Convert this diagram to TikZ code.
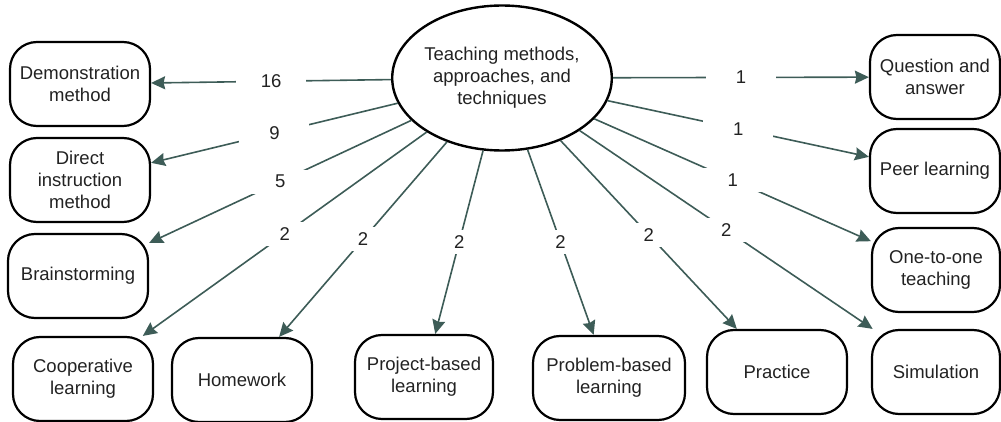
\documentclass[tikz,border=0pt]{standalone}
\usepackage{fontspec}
\setmainfont{Liberation Sans}
\usetikzlibrary{shapes.geometric,arrows.meta}
\definecolor{edgegray}{RGB}{61,92,87}
\definecolor{textgray}{RGB}{34,34,34}

\begin{document}
\begin{tikzpicture}[x=1pt,y=-1pt,
    every node/.style={font=\fontsize{18.5}{22}\selectfont, text=textgray},
    box/.style={draw=black, line width=2.2pt, rounded corners=27pt, minimum width=140pt, minimum height=84pt, align=center, inner sep=2pt},
    hub/.style={draw=black, line width=2.4pt, ellipse, minimum width=217pt, minimum height=145pt, inner sep=0pt, align=center},
    edge/.style={draw=edgegray, line width=1.6pt, -{Stealth[length=14pt,width=13pt,inset=1.5pt]}},
    cnt/.style={fill=white, minimum width=70pt, minimum height=24pt, inner sep=0pt}]
    \useasboundingbox (0,0) rectangle (1001,422);

    % centre
    \node[hub] (hub) at (502,78) {Teaching methods,\\ approaches, and\\ techniques};

    % left column
    \node[box] (demo) at (80,84) {Demonstration\\ method};
    \node[box] (direct) at (80,180) {Direct\\ instruction\\ method};
    \node[box] (brain) at (78,276) {Brainstorming};

    % bottom row
    \node[box] (coop) at (83,379) {Cooperative\\ learning};
    \node[box] (home) at (242,380) {Homework};
    \node[box, minimum width=138pt] (project) at (424,377) {Project-based\\ learning};
    \node[box, minimum width=152pt] (problem) at (609,378) {Problem-based\\ learning};
    \node[box] (practice) at (777,372) {Practice};
    \node[box, minimum width=128pt] (sim) at (936,372) {Simulation};

    % right column
    \node[box, minimum width=130pt] (qa) at (935,77) {Question and\\ answer};
    \node[box, minimum width=130pt] (peer) at (935,171) {Peer learning};
    \node[box, minimum width=128pt] (one) at (936,270) {One-to-one\\ teaching};

    % counts
    \draw[edge] (hub) -- node[cnt] {16} (demo);
    \draw[edge] (hub) -- node[cnt] {9} (direct);
    \draw[edge] (hub) -- node[cnt] {5} (brain);
    \draw[edge] (hub) -- node[cnt] {2} (coop);
    \draw[edge] (hub) -- node[cnt] {2} (home);
    \draw[edge] (hub) -- node[cnt] {2} (project);
    \draw[edge] (hub) -- node[cnt] {2} (problem);
    \draw[edge] (hub) -- node[cnt] {2} (practice);
    \draw[edge] (hub) -- node[cnt] {2} (sim);
    \draw[edge] (hub) -- node[cnt] {1} (qa);
    \draw[edge] (hub) -- node[cnt] {1} (peer);
    \draw[edge] (hub) -- node[cnt] {1} (one);

\end{tikzpicture}
\end{document}
